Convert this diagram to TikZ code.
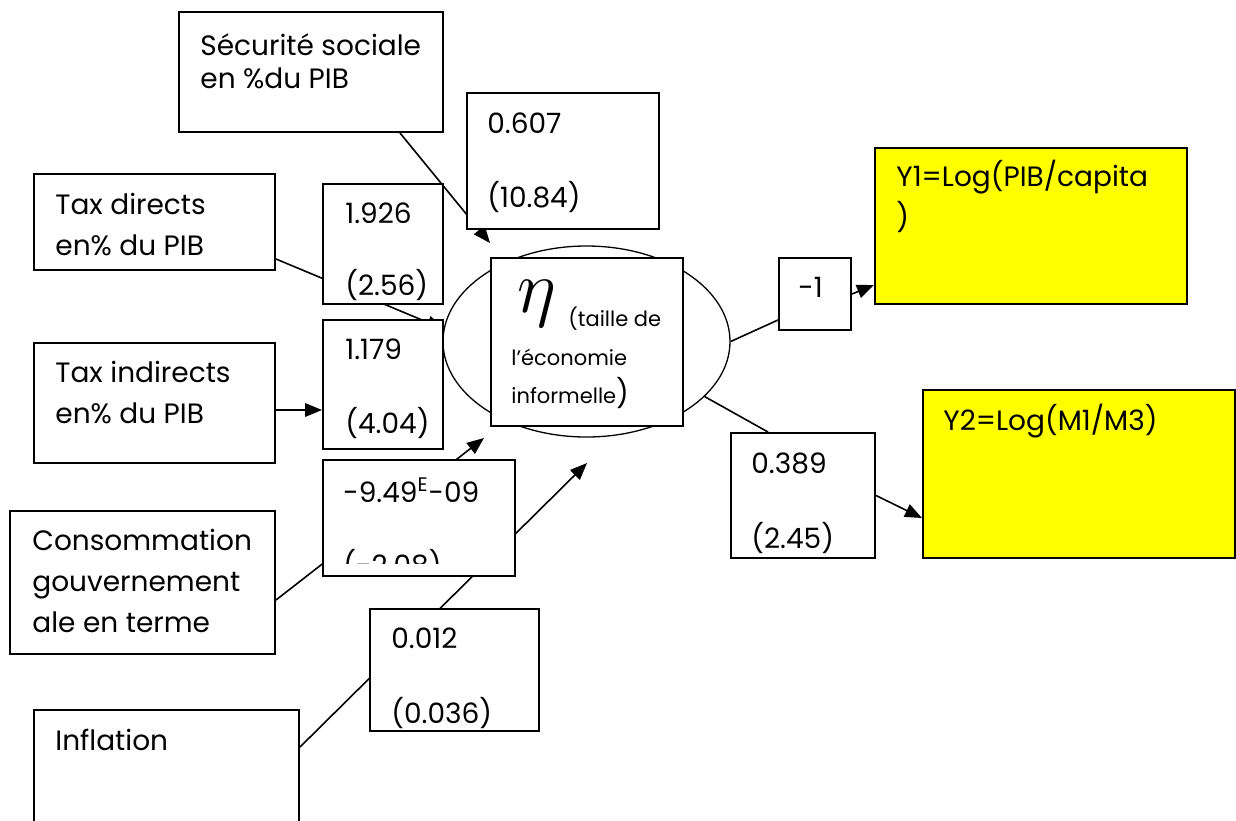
\documentclass[tikz,border=0pt]{standalone}
\usepackage{fontspec}
\setmainfont{Poppins}
\usepackage{tikz}
\usetikzlibrary{positioning,shapes.geometric,arrows.meta,backgrounds}
\definecolor{outyellow}{RGB}{255,255,0}
\tikzset{
  box/.style={draw, line width=1pt, fill=white, rectangle, inner sep=0pt, anchor=north west},
  outbox/.style={box, fill=outyellow},
  txt/.style={inner sep=0pt, align=left, font=\fontsize{14}{20.5}\selectfont},
  coef/.style={inner sep=0pt, align=left, font=\fontsize{14}{16}\selectfont},
  link/.style={line width=0.8pt},
  arr/.style={link, -{Triangle[length=8.5pt,width=6.8pt]}}
}

\begin{document}
\begin{tikzpicture}[x=0.5pt,y=-0.5pt]
\useasboundingbox (0,0) rectangle (1236,820);

% explanatory variables
\node[box, minimum width=132pt, minimum height=60pt] (sec) at (178,11) {};
\node[box, minimum width=120.5pt, minimum height=48pt] (td) at (33,173) {};
\node[box, minimum width=120.5pt, minimum height=60pt] (ti) at (33,342) {};
\node[box, minimum width=132.5pt, minimum height=71.5pt] (cons) at (9,510) {};
\node[box, minimum width=132.5pt, minimum height=70.5pt] (infl) at (33,709) {};

\node[txt, below right=10.45pt and 11pt of sec.north west, font=\fontsize{14}{16.5}\selectfont] (sect) {\strut Sécurité sociale\\en \%du PIB};
\node[txt, below right=6.2pt and 11pt of td.north west] (tdt) {\strut Tax directs\\en\% du PIB};
\node[txt, below right=5.7pt and 11pt of ti.north west] (tit) {\strut Tax indirects\\en\% du PIB};
\node[txt, below right=5.7pt and 11.5pt of cons.north west] (const) {\strut Consommation\\gouvernement\\ale en terme};
\node[txt, below right=6.2pt and 11pt of infl.north west] (inflt) {\strut Inflation};

% latent variable
\node[draw, ellipse, line width=0.65pt, minimum width=143.5pt, minimum height=95.5pt] (ell) at (586.5,341.5) {};
\node[box, minimum width=96pt, minimum height=84pt] (eta) at (490,257) {};
\node[anchor=base west, inner sep=0pt, font=\fontsize{24.88}{30}\selectfont] (etasym) at (517,312) {\scalebox{1.5}{$\eta$}};
\node[anchor=base west, inner sep=0pt, font=\fontsize{10.5}{12}\selectfont] (etaa) at (568,326) {(taille de};
\node[txt, anchor=north west, font=\fontsize{10.5}{19}\selectfont] (etab) at (511,338.4) {\strut l'économie\\informelle{\fontsize{14}{19}\selectfont)}};

% coefficients
\node[box, minimum width=96pt, minimum height=68pt] (c607) at (466,92) {};
\node[box, minimum width=60pt, minimum height=60pt] (c926) at (322,183) {};
\node[box, minimum width=60pt, minimum height=64.5pt] (c179) at (322,319) {};
\node[box, minimum width=96pt, minimum height=58pt] (c949) at (322,459) {};
\node[box, minimum width=84.5pt, minimum height=61pt] (c012) at (369,608) {};
\node[box, minimum width=36pt, minimum height=36pt] (m1) at (778,257) {};
\node[box, minimum width=72pt, minimum height=62.5pt] (c389) at (730,432) {};

\node[coef, below right=9.3pt and 10.5pt of c607.north west] (c607t) {\strut 0.607\\[18pt](10.84)};
\node[coef, below right=8.8pt and 11.5pt of c926.north west] (c926t) {\strut 1.926\\[17pt](2.56)};
\node[coef, below right=8.8pt and 11.5pt of c179.north west] (c179t) {\strut 1.179\\[18pt](4.04)};
\begin{scope}
  \clip (322,459) rectangle (514,563);
  \node[coef, below right=9.3pt and 10.5pt of c949.north west] (c949t) {\strut -9.49\textsuperscript{E}-09\\[18pt](-2.08)};
\end{scope}
\node[coef, below right=8.8pt and 11pt of c012.north west] (c012t) {\strut 0.012\\[18.5pt](0.036)};
\node[txt, below right=5.7pt and 10pt of m1.north west] (m1t) {\strut -1};
\node[coef, below right=9.3pt and 10.5pt of c389.north west] (c389t) {\strut 0.389\\[18.5pt](2.45)};

% outputs
\node[outbox, minimum width=156pt, minimum height=78pt] (y1) at (874,147) {};
\node[outbox, minimum width=156pt, minimum height=84pt] (y2) at (922,389) {};
\node[txt, below right=5.2pt and 11pt of y1.north west] (y1t) {\strut Y1=Log(PIB/capita\\)};
\node[txt, below right=6.2pt and 10.5pt of y2.north west] (y2t) {\strut Y2=Log(M1/M3)};

% paths, behind the boxes
\begin{scope}[on background layer]
  \draw[arr] ([xshift=44.5pt]sec.south) -- ([yshift=7pt]eta.north west);
  \draw[arr] ([yshift=-18.5pt]td.east) -- (ell.175);
  \draw[arr] ([yshift=-3.5pt]ti.east) -- ([yshift=-12.75pt]c179.west);
  \draw[arr] ([yshift=-8.75pt]cons.east) -- ([xshift=-3pt,yshift=-5.5pt]eta.south west);
  \draw[arr] ([yshift=-19pt]infl.north east) -- ([yshift=-18pt]eta.south);
  \draw[link] (ell.east) -- ([yshift=-13pt]m1.west);
  \draw[arr] (m1.east) -- ([yshift=10pt]y1.south west);
  \draw[link] (ell.-25) -- ([xshift=-17.5pt]c389.north);
  \draw[arr] (c389.east) -- ([yshift=-22pt]y2.west);
\end{scope}
\end{tikzpicture}
\end{document}
